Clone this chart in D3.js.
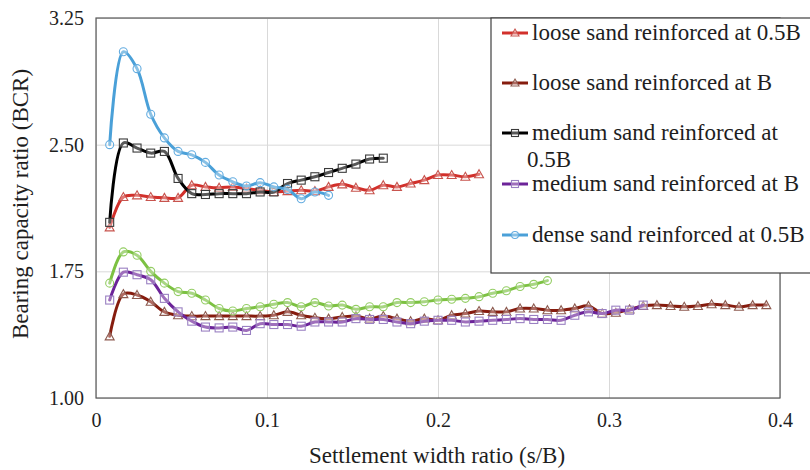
<!DOCTYPE html>
<html>
<head>
<meta charset="utf-8">
<script src="https://cdn.jsdelivr.net/npm/d3@7/dist/d3.min.js"></script>
<style>
  html, body { margin: 0; padding: 0; background: #ffffff; }
  svg { display: block; }
</style>
</head>
<body>
<svg id="chart" width="810" height="470"></svg>
<script>
// Settlement width ratio (s/B) at each reading
const settlement = [
  0.008, 0.016, 0.024, 0.032, 0.040, 0.048, 0.056, 0.064, 0.072, 0.080,
  0.088, 0.096, 0.104, 0.112, 0.120, 0.128, 0.136, 0.144, 0.152, 0.160,
  0.168, 0.176, 0.184, 0.192, 0.200, 0.208, 0.216, 0.224, 0.232, 0.240,
  0.248, 0.256, 0.264, 0.272, 0.280, 0.288, 0.296, 0.304, 0.312, 0.320,
  0.328, 0.336, 0.344, 0.352, 0.360, 0.368, 0.376, 0.384, 0.392
];

// Bearing capacity ratio for each test series
const looseHalfB = [
  2.01, 2.19, 2.20, 2.19, 2.185, 2.185, 2.26, 2.25, 2.245, 2.25,
  2.24, 2.23, 2.22, 2.225, 2.23, 2.225, 2.25, 2.265, 2.245, 2.23,
  2.26, 2.25, 2.27, 2.29, 2.32, 2.32, 2.31, 2.325
];
const looseB = [
  1.365, 1.615, 1.61, 1.57, 1.51, 1.49, 1.485, 1.485, 1.485, 1.485,
  1.485, 1.485, 1.49, 1.51, 1.49, 1.475, 1.47, 1.48, 1.485, 1.47,
  1.485, 1.47, 1.455, 1.47, 1.46, 1.49, 1.50, 1.515, 1.51, 1.51,
  1.53, 1.53, 1.52, 1.52, 1.53, 1.545, 1.50, 1.505, 1.525, 1.545,
  1.55, 1.545, 1.54, 1.545, 1.555, 1.55, 1.54, 1.55, 1.55
];
const mediumHalfB = [
  2.04, 2.51, 2.48, 2.45, 2.46, 2.30, 2.21, 2.205, 2.21, 2.21,
  2.21, 2.22, 2.22, 2.27, 2.29, 2.31, 2.335, 2.36, 2.385, 2.415,
  2.42
];
const mediumB = [
  1.58, 1.745, 1.73, 1.70, 1.59, 1.51, 1.455, 1.42, 1.415, 1.42,
  1.40, 1.44, 1.435, 1.435, 1.425, 1.45, 1.45, 1.45, 1.47, 1.465,
  1.465, 1.45, 1.44, 1.455, 1.46, 1.46, 1.45, 1.455, 1.46, 1.465,
  1.47, 1.465, 1.465, 1.46, 1.49, 1.51, 1.50, 1.52, 1.52, 1.55
];
const denseHalfB = [
  2.50, 3.05, 2.95, 2.68, 2.54, 2.46, 2.44, 2.395, 2.32, 2.28,
  2.255, 2.275, 2.25, 2.235, 2.18, 2.22, 2.20
];
const denseB = [
  1.68, 1.865, 1.845, 1.75, 1.68, 1.63, 1.62, 1.58, 1.53, 1.515,
  1.53, 1.54, 1.555, 1.565, 1.54, 1.565, 1.545, 1.55, 1.525, 1.54,
  1.54, 1.565, 1.565, 1.57, 1.58, 1.585, 1.59, 1.60, 1.62, 1.635,
  1.66, 1.673, 1.695
];

const seriesNames = [
  "loose sand reinforced at 0.5B",
  "loose sand reinforced at B",
  "medium sand reinforced at 0.5B",
  "medium sand reinforced at B",
  "dense sand reinforced at 0.5B",
  "dense sand reinforced at B"
];
const seriesValues = [looseHalfB, looseB, mediumHalfB, mediumB, denseHalfB, denseB];
const lineColors   = ["#d2302b", "#861c0e", "#000000", "#6c2399", "#4aa0d8", "#7cc142"];
const markerColors = ["#c8544e", "#8d5b50", "#3a3a3a", "#9a80c2", "#63ace0", "#93cd63"];
const markerShapes = ["triangle", "triangle", "square", "square", "circle", "circle"];

// Legend rows (text lines per entry); the box lists the first five series
const legendLines = [
  ["loose sand reinforced at 0.5B"],
  ["loose sand reinforced at B"],
  ["medium sand reinforced at", "0.5B"],
  ["medium sand reinforced at B"],
  ["dense sand reinforced at 0.5B"]
];

const xTicks = [0, 0.1, 0.2, 0.3, 0.4];
const yTicks = [1.00, 1.75, 2.50, 3.25];

const FONT = "'Liberation Serif', 'Times New Roman', Times, serif";
const TEXT_COLOR = "#1e1e1e";

const svg = d3.select("#chart");
const plot = { left: 96, right: 780, top: 18, bottom: 398 };

const x = d3.scaleLinear().domain([0, 0.4]).range([plot.left, plot.right]);
const y = d3.scaleLinear().domain([1.0, 3.25]).range([plot.bottom, plot.top]);

// Gridlines
svg.append("g")
  .attr("transform", `translate(0,${plot.bottom})`)
  .call(d3.axisBottom(x).tickValues(xTicks).tickSize(-(plot.bottom - plot.top)).tickFormat(""))
  .call(g => g.select(".domain").remove())
  .call(g => g.selectAll("line").attr("stroke", "#d9d9d9").attr("stroke-width", 1));
svg.append("g")
  .attr("transform", `translate(${plot.left},0)`)
  .call(d3.axisLeft(y).tickValues(yTicks).tickSize(-(plot.right - plot.left)).tickFormat(""))
  .call(g => g.select(".domain").remove())
  .call(g => g.selectAll("line").attr("stroke", "#d9d9d9").attr("stroke-width", 1));

// Plot frame
svg.append("rect")
  .attr("x", plot.left).attr("y", plot.top)
  .attr("width", plot.right - plot.left).attr("height", plot.bottom - plot.top)
  .attr("fill", "none").attr("stroke", "#595959").attr("stroke-width", 1.2);

// Tick labels
const xAxis = svg.append("g")
  .attr("transform", `translate(0,${plot.bottom})`)
  .call(d3.axisBottom(x).tickValues(xTicks).tickSize(0).tickPadding(15)
    .tickFormat(d => d === 0 ? "0" : d3.format(".1f")(d)));
xAxis.select(".domain").remove();
xAxis.selectAll("text")
  .style("font-family", FONT).style("font-size", "20px").style("fill", TEXT_COLOR);

const yAxis = svg.append("g")
  .attr("transform", `translate(${plot.left},0)`)
  .call(d3.axisLeft(y).tickValues(yTicks).tickSize(0).tickPadding(12).tickFormat(d3.format(".2f")));
yAxis.select(".domain").remove();
yAxis.selectAll("text")
  .style("font-family", FONT).style("font-size", "20px").style("fill", TEXT_COLOR);

// Axis titles
svg.append("text")
  .attr("x", 437).attr("y", 463)
  .attr("text-anchor", "middle")
  .style("font-family", FONT).style("font-size", "23px").style("fill", TEXT_COLOR)
  .text("Settlement width ratio (s/B)");
svg.append("text")
  .attr("transform", `translate(28,${(plot.top + plot.bottom) / 2 - 4}) rotate(-90)`)
  .attr("text-anchor", "middle")
  .style("font-family", FONT).style("font-size", "23px").style("fill", TEXT_COLOR)
  .text("Bearing capacity ratio (BCR)");

// Marker drawing
function drawMarker(sel, shape, color, size) {
  const h = size / 2;
  if (shape === "triangle") {
    sel.append("path")
      .attr("d", `M0,${-h - 0.5}L${h + 0.5},${h - 0.5}L${-h - 0.5},${h - 0.5}Z`)
      .attr("fill", "rgba(255,255,255,0.35)").attr("stroke", color).attr("stroke-width", 1.1);
  } else if (shape === "square") {
    sel.append("rect")
      .attr("x", -h).attr("y", -h).attr("width", size).attr("height", size)
      .attr("fill", "rgba(255,255,255,0.35)").attr("stroke", color).attr("stroke-width", 1.1);
  } else {
    sel.append("circle")
      .attr("r", h)
      .attr("fill", "rgba(255,255,255,0.35)").attr("stroke", color).attr("stroke-width", 1.1);
  }
}

const line = d3.line()
  .x(d => x(d[0]))
  .y(d => y(d[1]))
  .curve(d3.curveCatmullRom.alpha(0.5));

const plotG = svg.append("g");
seriesValues.forEach((vals, i) => {
  const pts = vals.map((v, k) => [settlement[k], v]);
  const g = plotG.append("g").attr("class", "series");
  g.append("path")
    .attr("d", line(pts))
    .attr("fill", "none")
    .attr("stroke", lineColors[i])
    .attr("stroke-width", 3)
    .attr("stroke-linejoin", "round")
    .attr("stroke-linecap", "round");
  g.selectAll("g.mk").data(pts).join("g")
    .attr("class", "mk")
    .attr("transform", d => `translate(${x(d[0])},${y(d[1])})`)
    .each(function () { drawMarker(d3.select(this), markerShapes[i], markerColors[i], 8); });
});

// Legend
const legend = svg.append("g");
legend.append("rect")
  .attr("x", 491).attr("y", 18).attr("width", 340).attr("height", 255)
  .attr("fill", "#ffffff").attr("stroke", "#404040").attr("stroke-width", 1.2);
const rowY = [33, 83, 133, 184, 235];
legendLines.forEach((lines, i) => {
  const cy = rowY[i];
  legend.append("line")
    .attr("x1", 502).attr("x2", 528).attr("y1", cy).attr("y2", cy)
    .attr("stroke", lineColors[i]).attr("stroke-width", 3);
  const mg = legend.append("g").attr("transform", `translate(515,${cy})`);
  drawMarker(mg, markerShapes[i], markerColors[i], 7);
  lines.forEach((t, j) => {
    legend.append("text")
      .attr("x", j === 0 ? 532 : 527).attr("y", cy + 7 + j * 27)
      .style("font-family", FONT).style("font-size", "23px").style("fill", TEXT_COLOR)
      .text(t);
  });
});
</script>
</body>
</html>
